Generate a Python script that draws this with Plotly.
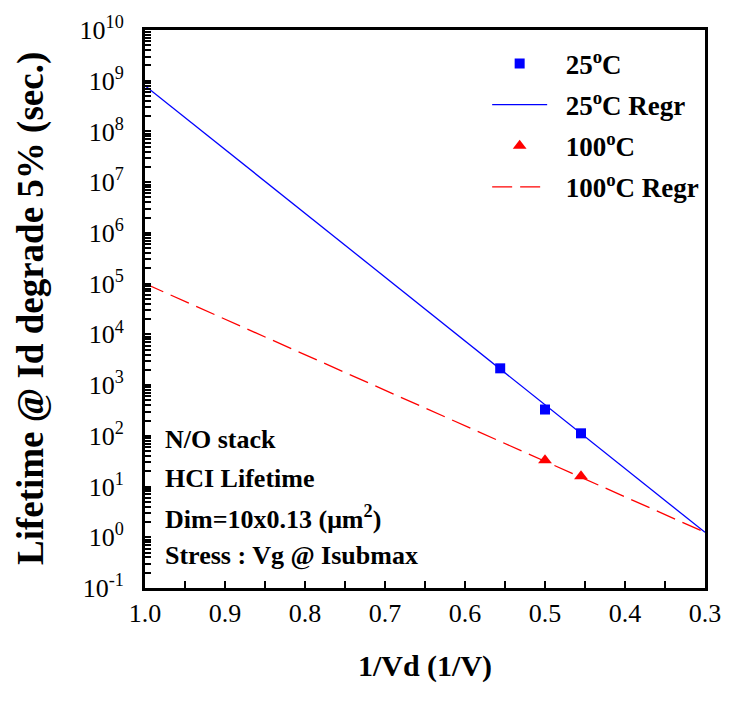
import plotly.graph_objects as go

# Measured HCI lifetime points (1/Vd in 1/V, lifetime in seconds)
inv_vd_25 = [0.556, 0.500, 0.455]
life_25 = [2140, 330, 112]
inv_vd_100 = [0.500, 0.455]
life_100 = [33, 16]

# Regression lines, evaluated at the ends of the 1/Vd range
regr_x = [1.0, 0.3]
regr_25 = [8.0e8, 1.25]
regr_100 = [1.0e5, 1.25]

# Axis ticks: labelled major ticks plus unlabelled intermediate ticks
x_major = [1.0, 0.9, 0.8, 0.7, 0.6, 0.5, 0.4, 0.3]
x_minor = [0.95, 0.85, 0.75, 0.65, 0.55, 0.45, 0.35]
y_exponents = [-1, 0, 1, 2, 3, 4, 5, 6, 7, 8, 9, 10]

x_tickvals = x_major + x_minor
x_ticktext = ["%.1f" % v for v in x_major] + [""] * len(x_minor)

y_major = [10.0 ** e for e in y_exponents]
y_minor = [m * 10.0 ** e for e in y_exponents[:-1] for m in range(2, 10)]
y_tickvals = y_major + y_minor
y_ticktext = ["10<sup>%d</sup>&nbsp;&nbsp;" % e for e in y_exponents] + [""] * len(y_minor)

note_lines = [
    "N/O stack",
    "HCI Lifetime",
    "Dim=10x0.13 (μm<sup>2</sup>)",
    "Stress : Vg @ Isubmax",
]

FONT = "Liberation Serif"
SP = "&nbsp;&nbsp;"

fig = go.Figure()
fig.add_trace(go.Scatter(
    x=inv_vd_25, y=life_25, mode="markers", name=SP + "<b>25<sup>o</sup>C</b>",
    marker=dict(symbol="square", size=10, color="#0000ff"), legendgroup="a"))
fig.add_trace(go.Scatter(
    x=regr_x, y=regr_25, mode="lines", name=SP + "<b>25<sup>o</sup>C Regr</b>",
    line=dict(color="#0000ff", width=1.3), legendgroup="b"))
fig.add_trace(go.Scatter(
    x=inv_vd_100, y=life_100, mode="markers", name=SP + "<b>100<sup>o</sup>C</b>",
    marker=dict(symbol="triangle-up", size=12, color="#ff0000"), legendgroup="c"))
fig.add_trace(go.Scatter(
    x=regr_x, y=regr_100, mode="lines", name=SP + "<b>100<sup>o</sup>C Regr</b>",
    line=dict(color="#ff0000", width=1.3, dash="20px,8px"), legendgroup="d"))

note_y = [0.2655, 0.1965, 0.1257, 0.0584]
for txt, yy in zip(note_lines, note_y):
    fig.add_annotation(
        text="<b>" + txt + "</b>", xref="paper", yref="paper",
        x=0.032, y=yy, xanchor="left", yanchor="middle", showarrow=False,
        font=dict(family=FONT, size=26, color="black"))

# y-axis title
fig.add_annotation(
    text="<b>Lifetime @ Id degrade 5% (sec.)</b>", xref="paper", yref="paper",
    x=-0.2035, y=0.5, xanchor="center", yanchor="middle", textangle=-90,
    showarrow=False, font=dict(family=FONT, size=37, color="black"))

fig.update_layout(
    width=733, height=708,
    margin=dict(l=145, r=23, t=23, b=120),
    plot_bgcolor="white", paper_bgcolor="white",
    font=dict(family=FONT, color="black"),
    legend=dict(
        x=0.611, y=0.983, xanchor="left", yanchor="top",
        bgcolor="rgba(0,0,0,0)", tracegroupgap=3, itemwidth=55,
        font=dict(family=FONT, size=27, color="black")),
    xaxis=dict(
        range=[1.0, 0.3], tickmode="array", tickvals=x_tickvals, ticktext=x_ticktext,
        ticks="inside", ticklen=7, tickwidth=2, tickcolor="black",
        showline=True, linewidth=3, linecolor="black", mirror=True,
        showgrid=False, zeroline=False,
        tickfont=dict(family=FONT, size=26, weight="normal"),
        title=dict(text="<b>1/Vd (1/V)</b>", font=dict(family=FONT, size=30), standoff=28)),
    yaxis=dict(
        type="log", range=[-1, 10], tickmode="array", tickvals=y_tickvals, ticktext=y_ticktext,
        ticks="inside", ticklen=6, tickwidth=1.5, tickcolor="black",
        showline=True, linewidth=3, linecolor="black", mirror=True,
        showgrid=False, zeroline=False,
        tickfont=dict(family=FONT, size=26, weight="normal")),
)

fig.write_html("out.html")
